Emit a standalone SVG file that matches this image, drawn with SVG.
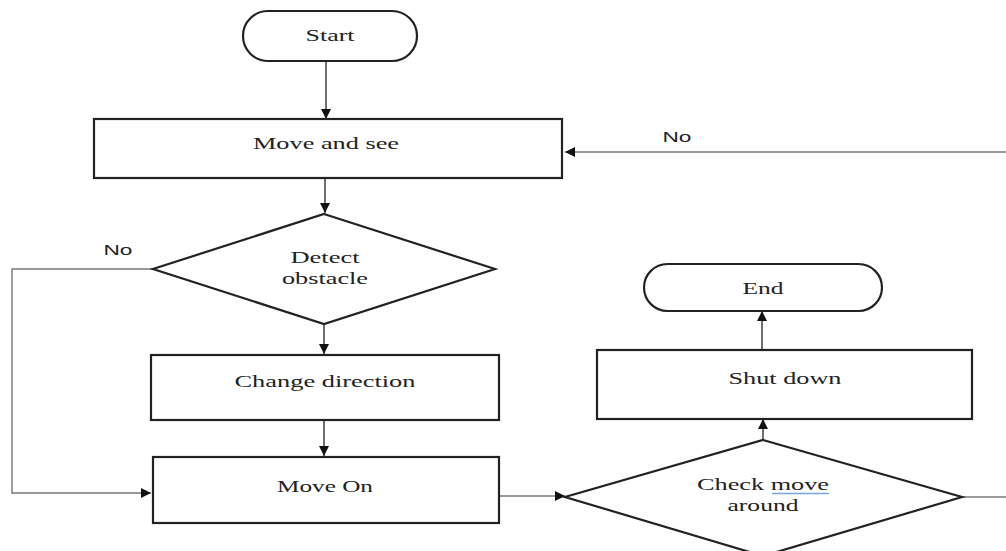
<svg xmlns="http://www.w3.org/2000/svg" width="1006" height="551" viewBox="0 0 1006 551">
<defs>
<marker id="ah" viewBox="0 0 10 10" refX="10" refY="5" markerWidth="10" markerHeight="10" markerUnits="userSpaceOnUse" orient="auto">
<path d="M0,0 L10,5 L0,10 z" fill="#111"/>
</marker>
</defs>
<style>
.shape{fill:#fff;stroke:#222;stroke-width:2.2}
.t{font-family:"Liberation Serif","Times New Roman",serif;font-size:17px;fill:#222;text-anchor:middle}
.lbl{font-family:"Liberation Sans",Arial,sans-serif;font-size:14px;fill:#222;text-anchor:middle}
.c{fill:none;stroke:#333;stroke-width:1.4}
.cg{fill:none;stroke:#777;stroke-width:1.4}
</style>
<rect width="1006" height="551" fill="#fff"/>
<g id="connectors">
<line class="c" x1="326" y1="57" x2="326" y2="119" marker-end="url(#ah)"/>
<line class="cg" x1="1006" y1="152" x2="565" y2="152" marker-end="url(#ah)"/>
<line class="c" x1="325" y1="178" x2="325" y2="213" marker-end="url(#ah)"/>
<polyline class="cg" points="153,269 12,269 12,493 151,493" marker-end="url(#ah)"/>
<line class="c" x1="324" y1="324" x2="324" y2="354" marker-end="url(#ah)"/>
<line class="c" x1="324" y1="420" x2="324" y2="456" marker-end="url(#ah)"/>
<line class="cg" x1="500" y1="496" x2="565" y2="496" marker-end="url(#ah)"/>
<line class="cg" x1="962" y1="497" x2="1006" y2="497"/>
<line class="c" x1="763" y1="440" x2="763" y2="419" marker-end="url(#ah)"/>
<line class="c" x1="762" y1="350" x2="762" y2="311" marker-end="url(#ah)"/>
<text class="lbl" x="677" y="142" textLength="29" lengthAdjust="spacingAndGlyphs">No</text>
<text class="lbl" x="118" y="255" textLength="29" lengthAdjust="spacingAndGlyphs">No</text>
</g>
<g id="start">
<rect class="shape" x="243" y="11" width="174" height="50" rx="25" ry="25"/>
<text class="t" x="330" y="41" textLength="49" lengthAdjust="spacingAndGlyphs">Start</text>
</g>
<g id="move-and-see">
<rect class="shape" x="94" y="119" width="468" height="59"/>
<text class="t" x="326" y="149" textLength="146" lengthAdjust="spacingAndGlyphs">Move and see</text>
</g>
<g id="detect-obstacle">
<polygon class="shape" points="324,214 495,269 324,324 153,269"/>
<text class="t" x="325" y="263" textLength="69" lengthAdjust="spacingAndGlyphs">Detect</text>
<text class="t" x="325" y="284" textLength="86" lengthAdjust="spacingAndGlyphs">obstacle</text>
</g>
<g id="change-direction">
<rect class="shape" x="151" y="355" width="348" height="65"/>
<text class="t" x="325" y="387" textLength="181" lengthAdjust="spacingAndGlyphs">Change direction</text>
</g>
<g id="move-on">
<rect class="shape" x="153" y="457" width="346" height="66"/>
<text class="t" x="325" y="492" textLength="96" lengthAdjust="spacingAndGlyphs">Move On</text>
</g>
<g id="check-move-around">
<polygon class="shape" points="763,440 962,497 763,556 565,497"/>
<text class="t" x="763" y="490" textLength="132" lengthAdjust="spacingAndGlyphs">Check move</text>
<line x1="772" y1="493.5" x2="829" y2="493.5" stroke="#7aa3e6" stroke-width="1.3"/>
<text class="t" x="763" y="511" textLength="71" lengthAdjust="spacingAndGlyphs">around</text>
</g>
<g id="shut-down">
<rect class="shape" x="597" y="350" width="375" height="69"/>
<text class="t" x="785" y="384" textLength="113" lengthAdjust="spacingAndGlyphs">Shut down</text>
</g>
<g id="end">
<rect class="shape" x="644" y="264" width="238" height="47" rx="23.5" ry="23.5"/>
<text class="t" x="763" y="294" textLength="41" lengthAdjust="spacingAndGlyphs">End</text>
</g>
</svg>
